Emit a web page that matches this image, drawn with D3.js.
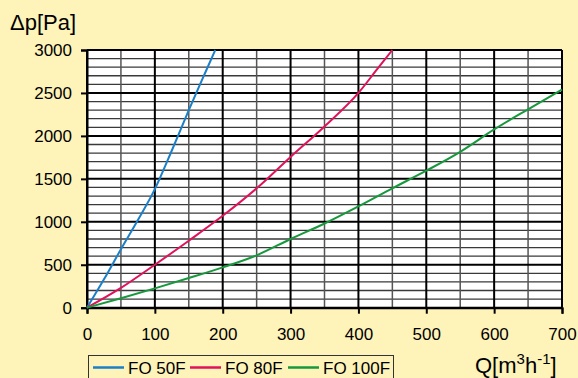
<!DOCTYPE html>
<html><head><meta charset="utf-8">
<script src="https://cdn.jsdelivr.net/npm/d3@7"></script>
<style>
html,body{margin:0;padding:0;background:#FEF3B9;}
svg{display:block;font-family:"Liberation Sans",Arial,sans-serif;}
</style></head><body>
<svg id="c" width="578" height="378"></svg>
<script>
const xTicks = [0,100,200,300,400,500,600,700];
const yTicks = [0,500,1000,1500,2000,2500,3000];
const seriesNames = ["FO 50F","FO 80F","FO 100F"];
const seriesColors = ["#1b7fc9","#e0125c","#16993c"];
const fo50Q = [0,25,50,75,100,125,150,175,189];
const fo50P = [0,330,680,1020,1380,1830,2300,2750,3000];
const fo80Q = [0,50,100,150,200,250,300,350,400,425,450];
const fo80P = [0,230,500,780,1070,1390,1755,2110,2500,2750,3000];
const fo100Q = [0,50,100,150,200,250,300,350,400,450,500,550,600,650,700];
const fo100P = [0,110,225,345,470,610,800,980,1180,1390,1595,1815,2075,2310,2540];

const svg = d3.select("#c");
const L=87, T=50, R=562, B=307.7;
const x = d3.scaleLinear().domain([0,700]).range([L,R]);
const y = d3.scaleLinear().domain([0,3000]).range([B,T]);

const g = svg.append("g");
g.append("rect").attr("x",L).attr("y",T).attr("width",R-L).attr("height",B-T).attr("fill","#fff");

// minor grid
g.selectAll(".hm").data(d3.range(100,3000,100).filter(v=>v%500)).enter().append("line")
 .attr("x1",L).attr("x2",R).attr("y1",d=>y(d)).attr("y2",d=>y(d))
 .attr("stroke","#3a3a3a").attr("stroke-width",1.3);
g.selectAll(".vm").data(d3.range(50,700,100)).enter().append("line")
 .attr("y1",T).attr("y2",B).attr("x1",d=>x(d)).attr("x2",d=>x(d))
 .attr("stroke","#555").attr("stroke-width",1.5);
// major grid
g.selectAll(".hM").data(yTicks).enter().append("line")
 .attr("x1",L).attr("x2",R).attr("y1",d=>y(d)).attr("y2",d=>y(d))
 .attr("stroke","#000").attr("stroke-width",2);
g.selectAll(".vM").data(xTicks).enter().append("line")
 .attr("y1",T).attr("y2",B).attr("x1",d=>x(d)).attr("x2",d=>x(d))
 .attr("stroke","#000").attr("stroke-width",2);

// axes
const ax = svg.append("g").attr("transform",`translate(0,${B})`)
 .call(d3.axisBottom(x).tickValues(xTicks).tickSize(6).tickPadding(14).tickFormat(d3.format("d")));
const ay = svg.append("g").attr("transform",`translate(${L},0)`)
 .call(d3.axisLeft(y).tickValues(yTicks).tickSize(6).tickPadding(9).tickFormat(d3.format("d")));
[ax,ay].forEach(a=>{
  a.select(".domain").attr("stroke","#000").attr("stroke-width",2);
  a.selectAll(".tick line").attr("stroke","#000").attr("stroke-width",2);
  a.selectAll(".tick text").attr("font-size",17).attr("fill","#000").attr("font-family","Liberation Sans, Arial, sans-serif");
});

// curves
const data = [[fo50Q,fo50P],[fo80Q,fo80P],[fo100Q,fo100P]];
const line = d3.line().x(d=>x(d[0])).y(d=>y(d[1])).curve(d3.curveMonotoneX);
data.forEach((s,i)=>{
  const pts = s[0].map((q,j)=>[q,s[1][j]]);
  svg.append("path").datum(pts).attr("d",line).attr("fill","none")
    .attr("stroke",seriesColors[i]).attr("stroke-width",2);
});

// axis titles
svg.append("text").attr("x",10).attr("y",30).attr("font-size",22).attr("fill","#000").text("Δp[Pa]");
const qt = svg.append("text").attr("x",475).attr("y",373).attr("font-size",22).attr("fill","#000");
qt.append("tspan").text("Q[m");
qt.append("tspan").attr("dy",-9).attr("font-size",15).text("3");
qt.append("tspan").attr("dy",9).text("h");
qt.append("tspan").attr("dy",-9).attr("font-size",15).text("-1");
qt.append("tspan").attr("dy",9).text("]");

// legend
const lg = svg.append("g");
lg.append("rect").attr("x",88.5).attr("y",355.5).attr("width",305).attr("height",30)
 .attr("fill","none").attr("stroke","#333").attr("stroke-width",1);
const lx = [93,190,288];
seriesNames.forEach((n,i)=>{
  lg.append("line").attr("x1",lx[i]).attr("x2",lx[i]+31).attr("y1",367.5).attr("y2",367.5)
    .attr("stroke",seriesColors[i]).attr("stroke-width",2.5);
  lg.append("text").attr("x",lx[i]+35).attr("y",373.5).attr("font-size",17).attr("fill","#000").text(n);
});
</script></body></html>
